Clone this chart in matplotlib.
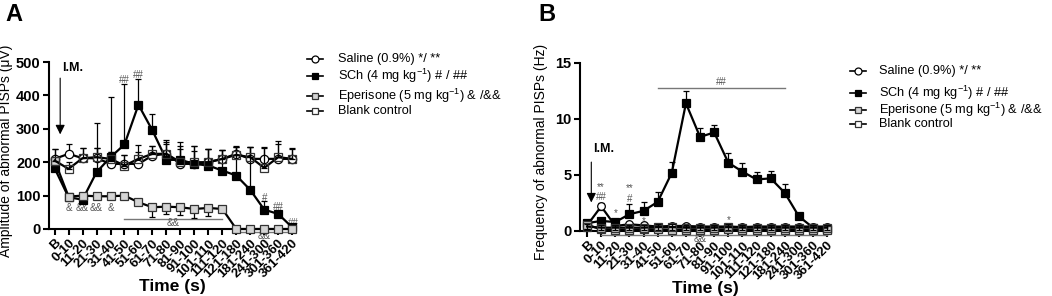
#!/usr/bin/env python3
# -*- coding: utf-8 -*-

from __future__ import annotations
import numpy as np
import matplotlib
matplotlib.use("Agg")
import matplotlib.pyplot as plt
from matplotlib.lines import Line2D

plt.rcParams["font.family"] = ["Liberation Sans", "DejaVu Sans"]
plt.rcParams["mathtext.fontset"] = "custom"
plt.rcParams["mathtext.rm"] = "Liberation Sans"
plt.rcParams["mathtext.default"] = "regular"

categories = ["B", "0-10", "11-20", "21-30", "31-40", "41-50", "51-60", "61-70",
              "71-80", "81-90", "91-100", "101-110", "111-120", "121-180",
              "181-240", "241-300", "301-360", "361-420"]

# Panel A: amplitude (uV)
sal_a = [210, 225, 212, 212, 195, 195, 195, 220, 225, 195, 195, 200, 210, 225, 210, 210, 210, 210]
sal_a_err = [30, 28, 30, 30, 35, 28, 35, 28, 35, 45, 38, 40, 28, 22, 35, 32, 45, 30]
sch_a = [182, 95, 88, 170, 215, 253, 372, 295, 207, 207, 195, 190, 175, 160, 117, 58, 45, 5]
sch_a_err = [0, 0, 0, 147, 180, 182, 78, 48, 58, 53, 53, 50, 63, 85, 128, 27, 0, 0]
epe_a = [205, 97, 100, 98, 98, 100, 80, 65, 67, 65, 60, 63, 60, 0, 0, 0, 0, 0]
epe_a_err = [0, 0, 0, 0, 0, 0, 0, 30, 22, 23, 27, 25, 0, 0, 0, 0, 0, 0]
blank_a = [205, 180, 212, 215, 210, 190, 210, 225, 225, 200, 200, 200, 210, 222, 215, 183, 215, 210]
blank_a_err = [35, 20, 30, 27, 20, 32, 42, 23, 30, 48, 48, 40, 28, 26, 30, 62, 47, 32]

# Panel B: frequency (Hz)
sal_b = [0.5, 2.2, 0.45, 0.6, 0.5, 0.4, 0.45, 0.45, 0.4, 0.4, 0.4, 0.35, 0.4, 0.4, 0.4, 0.4, 0.4, 0.4]
sal_b_err = [0.1, 0.3, 0.1, 0.1, 0.1, 0.1, 0.1, 0.1, 0.1, 0.1, 0.1, 0.1, 0.1, 0.1, 0.1, 0.1, 0.1, 0.1]
sch_b = [0.7, 0.9, 0.8, 1.5, 1.8, 2.6, 5.2, 11.4, 8.4, 8.8, 6.1, 5.3, 4.6, 4.7, 3.4, 1.3, 0.3, 0.2]
sch_b_err = [0, 0, 0, 0.9, 0.8, 0.9, 1.0, 1.1, 0.8, 0.7, 0.9, 0.8, 0.7, 0.7, 0.8, 0, 0, 0]
epe_b = [0.55, 0.15, 0.12, 0.12, 0.15, 0.15, 0.12, 0.12, 0.12, 0.12, 0.15, 0.12, 0.12, 0.12, 0.12, 0.12, 0.12, 0.1]
epe_b_err = [0.1, 0.25, 0.25, 0.25, 0.25, 0.25, 0.25, 0.25, 0.25, 0.25, 0.25, 0.25, 0.25, 0.25, 0.25, 0.25, 0.25, 0.25]
blank_b = [0.4, 0.3, 0.3, 0.3, 0.3, 0.35, 0.35, 0.3, 0.3, 0.3, 0.35, 0.3, 0.3, 0.3, 0.3, 0.3, 0.3, 0.3]
blank_b_err = [0.25] * 18

legend_labels = ["Saline (0.9%) */ **",
                 "SCh (4 mg kg$^{-1}$) # / ##",
                 "Eperisone (5 mg kg$^{-1}$) & /&&",
                 "Blank control"]

GREY = "#d4d4d4"
ANN = "#555555"


def series_styles():
    return [
        dict(marker="o", mfc="white", mec="black"),
        dict(marker="s", mfc="black", mec="black"),
        dict(marker="s", mfc=GREY, mec="#333333"),
        dict(marker="s", mfc="none", mec="#333333"),
    ]


def draw_panel(ax, data, ms, ylim, yticks, ylabel, label_x):
    x = np.arange(len(categories))
    styles = series_styles()
    order = [3, 0, 2, 1]
    for i in order:
        vals, up, down = data[i]
        st = styles[i]
        ax.errorbar(x, vals, yerr=[down, up], color="black", lw=1.6,
                    elinewidth=0.9, capsize=2.5, capthick=0.9,
                    marker=st["marker"], ms=ms, mfc=st["mfc"], mec=st["mec"],
                    mew=0.9, clip_on=False, zorder=3 + i)
    ax.set_xlim(-0.4, 17.2)
    ax.set_ylim(*ylim)
    ax.set_yticks(yticks)
    ax.set_xticks(x)
    ax.set_xticklabels(categories, rotation=45, ha="right", rotation_mode="anchor",
                       fontsize=9.5, fontweight="bold")
    for lab in ax.get_yticklabels():
        lab.set_fontweight("bold")
        lab.set_fontsize(10.5)
    ax.spines["top"].set_visible(False)
    ax.spines["right"].set_visible(False)
    ax.spines["left"].set_linewidth(1.5)
    ax.spines["bottom"].set_linewidth(1.5)
    ax.tick_params(direction="out", length=4, width=1.5, pad=2)
    ax.set_ylabel(ylabel, fontsize=10)
    ax.yaxis.set_label_coords(label_x, 0.47)
    ax.set_xlabel("Time (s)", fontsize=12.5, fontweight="bold", labelpad=-1)


def draw_legend(fig, hx, tx, ys):
    W, H = 1052, 296
    styles = series_styles()
    for st, lab, y in zip(styles, legend_labels, ys):
        fy = 1 - y / H
        fig.add_artist(Line2D([(hx - 8) / W, (hx + 8) / W], [fy, fy], color="black",
                              lw=1.2, marker=None, transform=fig.transFigure))
        fig.add_artist(Line2D([hx / W], [fy], marker=st["marker"], ms=5,
                              mfc=st["mfc"] if st["mfc"] != "none" else "white",
                              mec=st["mec"], mew=0.9, ls="none",
                              transform=fig.transFigure))
        fig.text(tx / W, fy, lab, fontsize=9.2, va="center", ha="left")


def main() -> None:
    fig = plt.figure(figsize=(10.52, 2.96), dpi=100)

    axA = fig.add_axes([49 / 1052, 1 - 229 / 296, 246 / 1052, 167 / 296])
    dataA = [
        (sal_a, sal_a_err, [0] * 18),
        (sch_a, sch_a_err, [0] * 18),
        (epe_a, [0] * 18, epe_a_err),
        (blank_a, blank_a_err, [0] * 18),
    ]
    draw_panel(axA, dataA, 6, (0, 500), [0, 100, 200, 300, 400, 500],
               "Amplitude of abnormal PISPs (μV)", -0.145)
    axA.annotate("", xy=(0.4, 275), xytext=(0.4, 460),
                 arrowprops=dict(arrowstyle="-|>", color="black", lw=0.8,
                                 mutation_scale=14), annotation_clip=False)
    axA.text(0.55, 465, "I.M.", fontsize=9, fontweight="bold", va="bottom")
    kw = dict(fontsize=7, color=ANN, ha="center", va="center", clip_on=False)
    for xi, s in [(1, "&"), (2, "&&"), (3, "&&"), (4, "&")]:
        axA.text(xi, 62, s, **kw)
    for xi, y, s in [(5, 445, "##"), (6, 462, "##"), (15, 92, "#"), (16, 65, "##"), (17.05, 18, "##")]:
        axA.text(xi, y, s, **kw)
    axA.plot([5, 12], [30, 30], color="#777777", lw=1.0)
    axA.text(8.5, 17, "&&", **kw)
    axA.plot([13, 17], [-10, -10], color="#777777", lw=1.0, clip_on=False)
    axA.text(15, -22, "&&", **kw)

    axB = fig.add_axes([580 / 1052, 1 - 231 / 296, 250 / 1052, 168 / 296])
    dataB = [
        (sal_b, sal_b_err, sal_b_err),
        (sch_b, sch_b_err, [0] * 18),
        (epe_b, [0] * 18, epe_b_err),
        (blank_b, blank_b_err, blank_b_err),
    ]
    draw_panel(axB, dataB, 5.5, (0, 15), [0, 5, 10, 15],
               "Frequency of abnormal PISPs (Hz)", -0.13)
    axB.set_xlim(-0.5, 17.2)
    axB.annotate("", xy=(0.3, 2.3), xytext=(0.3, 6.4),
                 arrowprops=dict(arrowstyle="-|>", color="black", lw=0.8,
                                 mutation_scale=14), annotation_clip=False)
    axB.text(0.45, 6.8, "I.M.", fontsize=9, fontweight="bold", va="bottom")
    for xi, y, s in [(1, 3.9, "**"), (1, 3.0, "##"), (2, 1.6, "*"), (3, 3.8, "**"),
                     (3, 2.9, "#"), (4, 0.9, "*"), (10, 1.0, "*")]:
        axB.text(xi, y, s, **kw)
    axB.plot([5, 14], [12.8, 12.8], color="#777777", lw=1.0)
    axB.text(9.5, 13.3, "##", **kw)
    axB.plot([1, 17], [-0.35, -0.35], color="#777777", lw=1.0, clip_on=False)
    axB.text(8, -0.75, "&&", **kw)

    draw_legend(fig, 315, 338, [59, 76, 96, 111])
    draw_legend(fig, 858, 879, [71, 93, 110, 124])

    fig.text(5 / 1052, 1 - 3 / 296, "A", fontsize=17, fontweight="bold", va="top")
    fig.text(538 / 1052, 1 - 3 / 296, "B", fontsize=17, fontweight="bold", va="top")

    fig.savefig("out.png", dpi=100)
    plt.close(fig)


if __name__ == "__main__":
    main()
